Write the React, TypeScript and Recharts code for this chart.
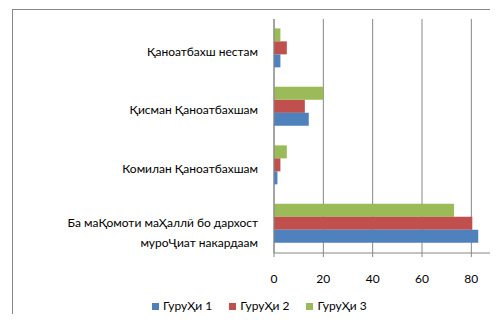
import { FC } from 'react';
import {
    BarChart,
    Bar,
    XAxis,
    YAxis,
    CartesianGrid,
    Legend,
} from 'recharts';

const categories = [
    ['Қаноатбахш нестам'],
    ['Қисман Қаноатбахшам'],
    ['Комилан Қаноатбахшам'],
    ['Ба маҚомоти маҲаллӣ бо дархост', 'муроҶиат накардаам'],
];
const group1 = [2.6, 14.1, 1.4, 82.8];
const group2 = [5.2, 12.5, 2.6, 80.4];
const group3 = [2.6, 20.0, 5.2, 73.0];
const seriesNames = ['ГуруҲи 1', 'ГуруҲи 2', 'ГуруҲи 3'];
const seriesColors = ['#4F81BD', '#C0504D', '#9BBB59'];
const xTicks = [0, 20, 40, 60, 80];

const data = categories.map((lines, i) => ({
    name: lines.join('\n'),
    g1: group1[i],
    g2: group2[i],
    g3: group3[i],
}));

const FONT = 'Lato, "Open Sans", sans-serif';
const AXIS = '#868686';
const TEXT = '#000';

const CategoryTick = (props: any) => {
    const { x, y, payload } = props;
    const lines = String(payload.value).split('\n');
    const first = lines.length > 1 ? y - 1 : y + 3;
    return (
        <g>
            {lines.map((l, i) => (
                <text
                    key={i}
                    x={x - 8}
                    y={first + i * 20}
                    textAnchor='end'
                    dominantBaseline='central'
                    fontFamily={FONT}
                    fontSize={12}
                    fill={TEXT}
                >
                    {l}
                </text>
            ))}
        </g>
    );
};

const LegendContent = () => (
    <div
        style={{
            display: 'flex',
            justifyContent: 'flex-start',
            alignItems: 'center',
            height: 20,
            lineHeight: '20px',
            fontFamily: FONT,
            fontSize: 12,
            color: TEXT,
            paddingLeft: 152,
        }}
    >
        {seriesNames.map((n, i) => (
            <span key={n} style={{ display: 'flex', alignItems: 'center', marginRight: 17 }}>
                <span
                    style={{
                        width: 7,
                        height: 7,
                        background: seriesColors[i],
                        marginRight: 4,
                        display: 'inline-block',
                    }}
                />
                {n}
            </span>
        ))}
    </div>
);

const App: FC = () => {
    return (
        <div style={{ position: 'relative', width: 498, height: 322, margin: -8, background: '#fff' }}>
            <div
                style={{
                    position: 'absolute',
                    left: 12,
                    top: 9,
                    right: 0,
                    bottom: 0,
                    borderLeft: '1px solid #898989',
                    borderTop: '1px solid #898989',
                }}
            />
            <BarChart
                width={498}
                height={322}
                data={data}
                layout='vertical'
                barCategoryGap='16%'
                barGap={0}
                margin={{ top: 19, right: 2, left: 0, bottom: 9 }}
                style={{ position: 'absolute', left: 0, top: 0 }}
            >
                <CartesianGrid horizontal={false} stroke={AXIS} strokeWidth={1} />
                <XAxis
                    type='number'
                    domain={[0, 90]}
                    ticks={xTicks}
                    height={40}
                    axisLine={{ stroke: AXIS }}
                    tickLine={{ stroke: AXIS }}
                    tickSize={4}
                    tickMargin={17}
                    tick={{ fontFamily: FONT, fontSize: 12, fill: TEXT }}
                />
                <YAxis
                    yAxisId='edge'
                    type='number'
                    domain={[0, 4]}
                    ticks={[0, 1, 2, 3, 4]}
                    width={0}
                    tick={false}
                    axisLine={false}
                    tickLine={{ stroke: AXIS }}
                    tickSize={5}
                />
                <YAxis
                    yAxisId='cat'
                    type='category'
                    dataKey='name'
                    width={274}
                    axisLine={{ stroke: AXIS }}
                    tickLine={false}
                    tick={<CategoryTick />}
                    interval={0}
                />
                <Legend
                    verticalAlign='bottom'
                    height={20}
                    content={<LegendContent />}
                    wrapperStyle={{ top: 296, bottom: 'auto', left: 0, width: 498, height: 20 }}
                />
                <Bar yAxisId='cat' dataKey='g3' name={seriesNames[2]} fill={seriesColors[2]} isAnimationActive={false} />
                <Bar yAxisId='cat' dataKey='g2' name={seriesNames[1]} fill={seriesColors[1]} isAnimationActive={false} />
                <Bar yAxisId='cat' dataKey='g1' name={seriesNames[0]} fill={seriesColors[0]} isAnimationActive={false} />
            </BarChart>
        </div>
    );
};

export default App;
